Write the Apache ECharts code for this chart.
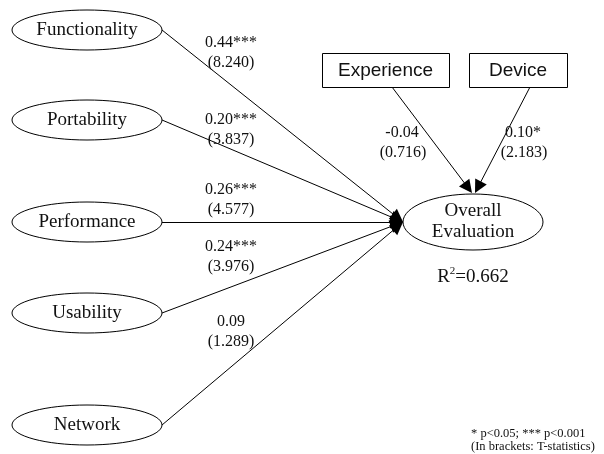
<!DOCTYPE html>
<html>
<head>
<meta charset="utf-8">
<script src="https://cdn.jsdelivr.net/npm/echarts@6/dist/echarts.min.js"></script>
<style>html,body{margin:0;padding:0;background:#fff;}#chart{width:604px;height:454px;}</style>
</head>
<body>
<div id="chart"></div>
<script>
// ---- data ----
const constructs = ['Functionality', 'Portability', 'Performance', 'Usability', 'Network'];
const pathCoefs = [0.44, 0.20, 0.26, 0.24, 0.09];
const pathSig = ['***', '***', '***', '***', ''];
const pathT = [8.240, 3.837, 4.577, 3.976, 1.289];
const controls = ['Experience', 'Device'];
const controlCoefs = [-0.04, 0.10];
const controlSig = ['', '*'];
const controlT = [0.716, 2.183];
const outcomeLines = ['Overall', 'Evaluation'];
const rSquared = 0.662;
const footnotes = ['* p<0.05; *** p<0.001', '(In brackets: T-statistics)'];

// ---- layout (diagram positions, pixel space) ----
const L = {
  left: { cx: 87, cy: [30, 120, 222, 313, 425], rx: 75, ry: 20 },
  outcome: { cx: 473, cy: 222, rx: 70, ry: 28, lineGap: 21, tip: [403, 222] },
  boxes: [ { x: 322, y: 53, w: 127, h: 34, from: [392, 87], tip: [472, 193] },
           { x: 469, y: 53, w: 98, h: 34, from: [530, 87], tip: [475, 193] } ],
  pathLabel: { x: 231, y1: [43, 120, 190, 247, 322], gap: 20 },
  controlLabel: { x: [402, 523], y1: 133, gap: 20 },
  r2: { x: 473, y: 277 },
  foot: { x: 471, y: [434, 447] },
  arrow: [10, 13]
};

const SERIF = '"Liberation Serif", "Times New Roman", serif';
const SANS = '"Liberation Sans", Arial, sans-serif';
const INK = '#111';

// nodes
const nodeItems = [];
constructs.forEach((n, i) => nodeItems.push({ kind: 'ellipse', text: n, cx: L.left.cx, cy: L.left.cy[i], rx: L.left.rx, ry: L.left.ry }));
nodeItems.push({ kind: 'outcome', text: outcomeLines, cx: L.outcome.cx, cy: L.outcome.cy, rx: L.outcome.rx, ry: L.outcome.ry });
controls.forEach((n, i) => { const b = L.boxes[i]; nodeItems.push({ kind: 'box', text: n, x: b.x, y: b.y, w: b.w, h: b.h }); });

// text labels
const textItems = [];
constructs.forEach((n, i) => {
  textItems.push({ t: pathCoefs[i].toFixed(2) + pathSig[i], x: L.pathLabel.x, y: L.pathLabel.y1[i] });
  textItems.push({ t: '(' + pathT[i].toFixed(3) + ')', x: L.pathLabel.x, y: L.pathLabel.y1[i] + L.pathLabel.gap });
});
controls.forEach((n, i) => {
  textItems.push({ t: controlCoefs[i].toFixed(2) + controlSig[i], x: L.controlLabel.x[i], y: L.controlLabel.y1 });
  textItems.push({ t: '(' + controlT[i].toFixed(3) + ')', x: L.controlLabel.x[i] + 1, y: L.controlLabel.y1 + L.controlLabel.gap });
});

// edges
function shorten(from, tip, d) {
  const dx = tip[0] - from[0], dy = tip[1] - from[1];
  const len = Math.sqrt(dx * dx + dy * dy);
  return [tip[0] - dx / len * d, tip[1] - dy / len * d];
}
const edgeData = [];
constructs.forEach((n, i) => {
  const from = [L.left.cx + L.left.rx, L.left.cy[i]];
  edgeData.push({ coords: [from, shorten(from, L.outcome.tip, L.arrow[1] / 2)] });
});
L.boxes.forEach(b => edgeData.push({ coords: [b.from, shorten(b.from, b.tip, L.arrow[1] / 2)] }));

const chart = echarts.init(document.getElementById('chart'), null, { renderer: 'canvas' });
chart.setOption({
  backgroundColor: '#fff',
  animation: false,
  grid: { left: 0, right: 0, top: 0, bottom: 0 },
  xAxis: { type: 'value', min: 0, max: 604, show: false },
  yAxis: { type: 'value', min: 0, max: 454, inverse: true, show: false },
  series: [
    {
      type: 'lines',
      coordinateSystem: 'cartesian2d',
      z: 1,
      symbol: ['none', 'triangle'],
      symbolSize: L.arrow,
      lineStyle: { color: '#000', width: 1, opacity: 1 },
      itemStyle: { color: '#000' },
      data: edgeData
    },
    {
      type: 'custom',
      coordinateSystem: 'cartesian2d',
      z: 2,
      data: nodeItems.map((n, i) => [n.cx || n.x, n.cy || n.y, i]),
      renderItem: function (params, api) {
        const n = nodeItems[params.dataIndex];
        if (n.kind === 'box') {
          const p = api.coord([n.x, n.y]);
          return { type: 'group', children: [
            { type: 'rect', shape: { x: p[0] + 0.5, y: p[1] + 0.5, width: n.w, height: n.h },
              style: { fill: '#fff', stroke: '#000', lineWidth: 1 } },
            { type: 'text', x: p[0] + n.w / 2, y: p[1] + n.h / 2 + 1,
              style: { text: n.text, font: '19px ' + SANS, fill: INK, align: 'center', verticalAlign: 'middle' } }
          ] };
        }
        const c = api.coord([n.cx, n.cy]);
        const children = [
          { type: 'ellipse', shape: { cx: c[0], cy: c[1], rx: n.rx, ry: n.ry },
            style: { fill: '#fff', stroke: '#000', lineWidth: 1 } }
        ];
        if (n.kind === 'outcome') {
          n.text.forEach((t, k) => children.push({ type: 'text', x: c[0], y: c[1] + (k - 0.5) * L.outcome.lineGap,
            style: { text: t, font: '19px ' + SERIF, fill: INK, align: 'center', verticalAlign: 'middle' } }));
        } else {
          children.push({ type: 'text', x: c[0], y: c[1],
            style: { text: n.text, font: '19px ' + SERIF, fill: INK, align: 'center', verticalAlign: 'middle' } });
        }
        return { type: 'group', children: children };
      }
    },
    {
      type: 'custom',
      coordinateSystem: 'cartesian2d',
      z: 3,
      data: textItems.map(t => [t.x, t.y]),
      renderItem: function (params, api) {
        const t = textItems[params.dataIndex];
        const p = api.coord([t.x, t.y]);
        return { type: 'text', x: p[0], y: p[1],
          style: { text: t.t, font: '16px ' + SERIF, fill: INK, align: 'center', verticalAlign: 'middle' } };
      }
    },
    {
      type: 'custom',
      coordinateSystem: 'cartesian2d',
      z: 3,
      data: [[L.r2.x, L.r2.y]],
      renderItem: function (params, api) {
        const p = api.coord([api.value(0), api.value(1)]);
        return { type: 'text', x: p[0], y: p[1],
          style: { text: 'R{sup|2}=' + rSquared.toFixed(3), font: '19px ' + SERIF, fill: INK,
            align: 'center', verticalAlign: 'middle',
            rich: { sup: { fontSize: 11, fontFamily: SERIF, verticalAlign: 'top', lineHeight: 22, padding: [0, 0, 0, 0] } } } };
      }
    },
    {
      type: 'custom',
      coordinateSystem: 'cartesian2d',
      z: 3,
      data: footnotes.map((f, i) => [L.foot.x, L.foot.y[i]]),
      renderItem: function (params, api) {
        const p = api.coord([api.value(0), api.value(1)]);
        return { type: 'text', x: p[0], y: p[1],
          style: { text: footnotes[params.dataIndex], font: '12.5px ' + SERIF, fill: INK, align: 'left', verticalAlign: 'middle' } };
      }
    }
  ]
});
</script>
</body>
</html>
